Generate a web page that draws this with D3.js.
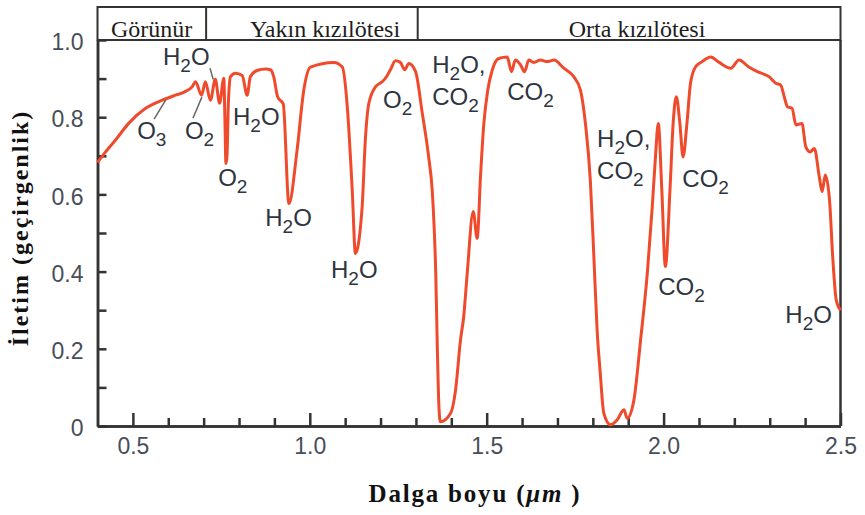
<!DOCTYPE html>
<html>
<head>
<meta charset="utf-8">
<script src="https://cdn.jsdelivr.net/npm/d3@7"></script>
<style>
  html, body { margin: 0; padding: 0; background: #fff; }
  svg { display: block; }
</style>
</head>
<body>
<svg id="chart" width="865" height="515"></svg>
<script>
// ---------- DATA ----------
const wavelength = [
  0.400, 0.420, 0.451, 0.488, 0.536, 0.583, 0.620, 0.645, 0.668, 0.677,
  0.694, 0.705, 0.719, 0.733, 0.745, 0.757, 0.760, 0.763, 0.766, 0.770,
  0.776, 0.790, 0.809, 0.823, 0.832, 0.851, 0.875, 0.889, 0.898, 0.909,
  0.925, 0.941, 0.964, 0.983, 1.002, 1.068, 1.092, 1.106, 1.120, 1.129,
  1.148, 1.157, 1.167, 1.186, 1.205, 1.214, 1.228, 1.242, 1.256, 1.268,
  1.280, 1.299, 1.318, 1.336, 1.346, 1.351, 1.356, 1.360, 1.365, 1.369,
  1.398, 1.412, 1.426, 1.435, 1.445, 1.462, 1.473, 1.483, 1.492, 1.503,
  1.516, 1.534, 1.558, 1.570, 1.581, 1.596, 1.607, 1.619, 1.633, 1.652,
  1.671, 1.690, 1.718, 1.746, 1.765, 1.779, 1.793, 1.803, 1.812, 1.821,
  1.831, 1.850, 1.869, 1.888, 1.897, 1.916, 1.935, 1.954, 1.968, 1.977,
  1.985, 1.995, 2.005, 2.018, 2.027, 2.036, 2.046, 2.055, 2.066, 2.076,
  2.090, 2.109, 2.133, 2.157, 2.190, 2.213, 2.241, 2.265, 2.298, 2.317,
  2.331, 2.341, 2.350, 2.363, 2.374, 2.391, 2.402, 2.414, 2.426, 2.440,
  2.448, 2.457, 2.469, 2.478, 2.488, 2.500
];
const transmittance = [
  0.683, 0.707, 0.741, 0.784, 0.823, 0.844, 0.857, 0.865, 0.879, 0.892,
  0.857, 0.892, 0.844, 0.898, 0.836, 0.901, 0.800, 0.680, 0.700, 0.840,
  0.905, 0.914, 0.908, 0.857, 0.905, 0.921, 0.925, 0.923, 0.905, 0.853,
  0.834, 0.576, 0.714, 0.870, 0.930, 0.942, 0.930, 0.827, 0.611, 0.447,
  0.568, 0.741, 0.836, 0.879, 0.892, 0.901, 0.923, 0.946, 0.942, 0.923,
  0.939, 0.918, 0.810, 0.697, 0.611, 0.525, 0.397, 0.223, 0.050, 0.011,
  0.033, 0.093, 0.223, 0.283, 0.396, 0.556, 0.486, 0.655, 0.784, 0.870,
  0.923, 0.952, 0.956, 0.918, 0.948, 0.935, 0.918, 0.948, 0.942, 0.948,
  0.944, 0.948, 0.927, 0.905, 0.870, 0.784, 0.635, 0.437, 0.250, 0.137,
  0.033, 0.003, 0.016, 0.042, 0.020, 0.067, 0.223, 0.396, 0.568, 0.697,
  0.784, 0.611, 0.413, 0.611, 0.784, 0.853, 0.784, 0.697, 0.784, 0.888,
  0.930, 0.944, 0.956, 0.942, 0.927, 0.948, 0.930, 0.918, 0.905, 0.888,
  0.883, 0.853, 0.827, 0.823, 0.780, 0.784, 0.723, 0.710, 0.719, 0.646,
  0.607, 0.650, 0.585, 0.438, 0.326, 0.300
];

const xMajorTicks = [0.5, 1.0, 1.5, 2.0, 2.5];
const xTickLabels = ["0.5", "1.0", "1.5", "2.0", "2.5"];
const xMinorTicks = [0.6, 0.7, 0.8, 0.9, 1.1, 1.2, 1.3, 1.4, 1.6, 1.7, 1.8, 1.9, 2.1, 2.2, 2.3, 2.4];
const yMajorTicks = [0, 0.2, 0.4, 0.6, 0.8, 1.0];
const yTickLabels = ["0", "0.2", "0.4", "0.6", "0.8", "1.0"];
const yMinorTicks = [0.1, 0.3, 0.5, 0.7, 0.9];

const bandNames = ["Görünür", "Yakın kızılötesi", "Orta kızılötesi"];
const bandEdges = [0.4, 0.707, 1.305, 2.5];
const bandLabelAt = [0.553, 1.043, 1.925];

// annotation text ("_" marks a subscript digit) and its anchor in data units
const annoText = ["H_2O", "O_3", "O_2", "O_2", "H_2O", "H_2O", "H_2O", "O_2",
                  "H_2O,|CO_2", "CO_2", "H_2O,|CO_2", "CO_2", "CO_2", "H_2O"];
const annoWavelength = [0.585, 0.512, 0.647, 0.741, 0.783, 0.874, 1.060, 1.207,
                        1.346, 1.558, 1.812, 1.985, 2.053, 2.344];
const annoTransmittance = [0.935, 0.744, 0.744, 0.622, 0.780, 0.518, 0.383, 0.824,
                           0.915, 0.845, 0.723, 0.339, 0.619, 0.267];
// leader lines [λ1, T1, λ2, T2]
const leaders = [
  [0.560, 0.795, 0.593, 0.845],
  [0.670, 0.798, 0.695, 0.852],
  [0.718, 0.927, 0.727, 0.898]
];

// ---------- CHART ----------
const svg = d3.select("#chart");
const x = d3.scaleLinear().domain([0.4, 2.5]).range([97.5, 840.5]);
const y = d3.scaleLinear().domain([0, 1]).range([426, 40]);

const axisColor = "#333";
const labelColor = "#474e59";
const annoColor = "#2e3540";

// header band
const head = svg.append("g");
head.append("rect")
  .attr("x", x(0.4)).attr("y", 7)
  .attr("width", x(2.5) - x(0.4)).attr("height", 33)
  .attr("fill", "none").attr("stroke", axisColor).attr("stroke-width", 2);
bandEdges.slice(1, -1).forEach(e => {
  head.append("line")
    .attr("x1", x(e)).attr("x2", x(e)).attr("y1", 7).attr("y2", 40)
    .attr("stroke", axisColor).attr("stroke-width", 2);
});
bandNames.forEach((n, i) => {
  head.append("text")
    .attr("x", x(bandLabelAt[i])).attr("y", 36.5)
    .attr("text-anchor", "middle")
    .attr("font-family", "'Liberation Serif', 'Times New Roman', serif")
    .attr("font-size", 24)
    .attr("fill", "#1d1d1d")
    .text(n);
});

// plot frame (right border)
svg.append("line")
  .attr("x1", x(2.5)).attr("x2", x(2.5)).attr("y1", y(1)).attr("y2", y(0))
  .attr("stroke", axisColor).attr("stroke-width", 2.5);

// axes
function styleAxis(g) {
  g.select(".domain").attr("stroke", axisColor).attr("stroke-width", 2.5);
  g.selectAll(".tick line").attr("stroke", axisColor).attr("stroke-width", 2.5);
  g.selectAll(".tick text")
    .attr("fill", labelColor)
    .attr("font-family", "'Liberation Sans', Arial, sans-serif")
    .attr("font-size", 23);
}
const xMinor = svg.append("g").attr("transform", `translate(0,${y(0)})`)
  .call(d3.axisBottom(x).tickValues(xMinorTicks).tickSizeInner(-8).tickSizeOuter(0).tickFormat(""));
styleAxis(xMinor);
const xMajor = svg.append("g").attr("transform", `translate(0,${y(0)})`)
  .call(d3.axisBottom(x).tickValues(xMajorTicks).tickSizeInner(-13).tickSizeOuter(0)
    .tickPadding(12).tickFormat((d, i) => xTickLabels[i]));
styleAxis(xMajor);
const yMinor = svg.append("g").attr("transform", `translate(${x(0.4)},0)`)
  .call(d3.axisLeft(y).tickValues(yMinorTicks).tickSizeInner(-9).tickSizeOuter(0).tickFormat(""));
styleAxis(yMinor);
const yMajor = svg.append("g").attr("transform", `translate(${x(0.4)},0)`)
  .call(d3.axisLeft(y).tickValues(yMajorTicks).tickSizeInner(-9).tickSizeOuter(0)
    .tickPadding(14).tickFormat((d, i) => yTickLabels[i]));
styleAxis(yMajor);
yMajor.selectAll(".tick text").attr("dy", "0.42em");

// curve
const pts = wavelength.map((w, i) => [w, transmittance[i]]);
svg.append("path")
  .datum(pts)
  .attr("fill", "none")
  .attr("stroke", "#f04a2c")
  .attr("stroke-width", 3)
  .attr("stroke-linejoin", "round")
  .attr("d", d3.line().x(d => x(d[0])).y(d => y(d[1])).curve(d3.curveMonotoneX));

// leader lines
leaders.forEach(l => {
  svg.append("line")
    .attr("x1", x(l[0])).attr("y1", y(l[1]))
    .attr("x2", x(l[2])).attr("y2", y(l[3]))
    .attr("stroke", "#666").attr("stroke-width", 1.5);
});

// annotations
const lineGap = 32;
annoText.forEach((t, i) => {
  const lines = t.split("|");
  lines.forEach((ln, j) => {
    const txt = svg.append("text")
      .attr("x", x(annoWavelength[i]))
      .attr("y", y(annoTransmittance[i]) + j * lineGap)
      .attr("font-family", "'Liberation Sans', Arial, sans-serif")
      .attr("font-size", 24)
      .attr("fill", annoColor);
    const parts = ln.split(/(_\d)/).filter(s => s.length);
    parts.forEach(p => {
      if (p.startsWith("_")) {
        txt.append("tspan").attr("font-size", 19).attr("dy", 7).text(p.slice(1));
      } else {
        const prevSub = txt.selectAll("tspan").size() > 0 &&
          txt.select("tspan:last-child").attr("dy") === "7";
        txt.append("tspan").attr("dy", prevSub ? -7 : 0).text(p);
      }
    });
  });
});

// axis titles
svg.append("text")
  .attr("transform", `translate(28,228) rotate(-90)`)
  .attr("text-anchor", "middle")
  .attr("font-family", "'Liberation Serif', 'Times New Roman', serif")
  .attr("font-weight", "bold")
  .attr("font-size", 24)
  .attr("letter-spacing", 2)
  .attr("fill", "#111")
  .text("İletim (geçirgenlik)");

const xt = svg.append("text")
  .attr("x", 475).attr("y", 502)
  .attr("text-anchor", "middle")
  .attr("font-family", "'Liberation Serif', 'Times New Roman', serif")
  .attr("font-weight", "bold")
  .attr("font-size", 25)
  .attr("letter-spacing", 1.8)
  .attr("fill", "#111");
xt.append("tspan").text("Dalga boyu (");
xt.append("tspan").attr("font-style", "italic").text("μm");
xt.append("tspan").text(" )");
</script>
</body>
</html>
